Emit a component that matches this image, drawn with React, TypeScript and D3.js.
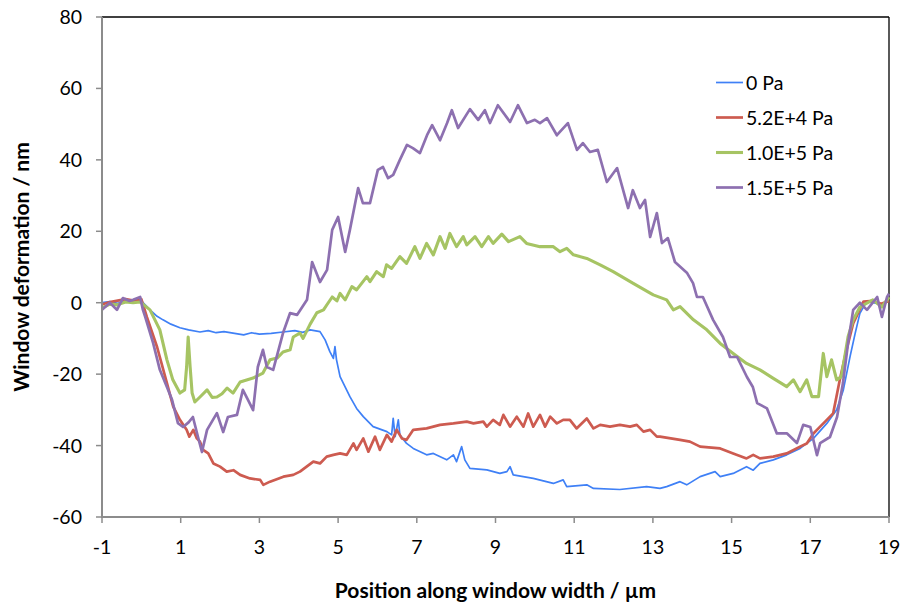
import React from "react";
import * as d3 from "d3";

const xTicks = [-1, 1, 3, 5, 7, 9, 11, 13, 15, 17, 19];
const yTicks = [-60, -40, -20, 0, 20, 40, 60, 80];
const seriesNames = ["0 Pa", "5.2E+4 Pa", "1.0E+5 Pa", "1.5E+5 Pa"];
const seriesColors = ["#3f80f6", "#cd5b50", "#a6c463", "#8d70b0"];
const seriesWidths = [1.7, 2.7, 3.1, 2.7];

const pa0: [number, number][] = [[-1,0],[-0.8,0.3],[-0.6,-0.2],[-0.4,0.5],[-0.2,0.3],[0,0.5],[0.22,-2],[0.4,-3.8],[0.55,-4.8],[0.75,-6],[0.98,-7],[1.2,-7.6],[1.49,-8.2],[1.7,-7.8],[1.9,-8.4],[2.1,-8.1],[2.33,-8.5],[2.6,-9],[2.8,-8.4],[3.0,-8.8],[3.3,-8.6],[3.6,-8.2],[3.9,-7.8],[4.1,-8.3],[4.29,-7.6],[4.54,-8.1],[4.67,-10.4],[4.79,-13.7],[4.88,-15.6],[4.92,-12.3],[4.96,-16],[5.05,-20.7],[5.3,-26.3],[5.47,-29.6],[5.64,-31.9],[5.89,-34.7],[6.24,-36.1],[6.36,-37],[6.4,-32.4],[6.45,-37.5],[6.53,-32.8],[6.57,-37],[6.74,-39.4],[6.91,-40.8],[7.25,-42.6],[7.42,-42.2],[7.76,-44],[7.93,-42.6],[8.01,-44.5],[8.14,-40.3],[8.22,-44],[8.35,-46.4],[8.78,-46.8],[9.11,-47.8],[9.29,-47.3],[9.37,-45.9],[9.45,-48.2],[9.96,-49.2],[10.47,-50.6],[10.72,-49.6],[10.81,-51.5],[11.32,-51],[11.49,-52],[12.16,-52.3],[12.84,-51.5],[13.18,-52],[13.35,-51.5],[13.69,-50.1],[13.86,-51],[14.2,-48.7],[14.58,-47.3],[14.71,-48.7],[15.04,-47.8],[15.38,-45.9],[15.55,-46.9],[15.72,-45],[16.06,-44],[16.4,-42.6],[16.74,-40.8],[17.08,-38],[17.42,-33.8],[17.67,-30],[17.84,-24.4],[18.01,-15.1],[18.14,-8.6],[18.26,-3],[18.43,0.3],[18.6,0],[18.8,-0.5],[19,0.5]];

const pa52e4: [number, number][] = [[-1,-0.5],[-0.8,0.2],[-0.6,0.6],[-0.4,1],[-0.2,0.6],[0,1],[0.14,-4],[0.4,-12.4],[0.65,-22.5],[0.81,-29.1],[0.98,-32.8],[1.15,-35.6],[1.22,-37.5],[1.32,-35.6],[1.41,-38],[1.49,-38.9],[1.57,-41.2],[1.7,-42.2],[1.83,-45],[2.0,-45.9],[2.17,-47.3],[2.34,-46.9],[2.51,-48.2],[2.76,-49.2],[3.02,-49.6],[3.1,-51],[3.27,-50.1],[3.61,-48.7],[3.86,-48.2],[4.03,-47.3],[4.2,-45.9],[4.37,-44.5],[4.54,-45],[4.71,-43.1],[4.88,-42.6],[5.05,-42.2],[5.22,-42.6],[5.39,-39.4],[5.47,-41.2],[5.64,-38],[5.77,-41.7],[5.94,-37.5],[6.06,-41.2],[6.24,-37],[6.36,-38.9],[6.49,-35.6],[6.62,-38],[6.74,-38.4],[6.91,-35.6],[7.25,-35.2],[7.59,-34.2],[7.93,-33.8],[8.27,-33.3],[8.44,-33.8],[8.69,-33.3],[8.78,-34.7],[8.94,-32.8],[9.11,-34.2],[9.2,-31.4],[9.37,-34.7],[9.54,-31.9],[9.71,-34.7],[9.83,-31],[9.96,-34.7],[10.13,-31.4],[10.26,-34.7],[10.39,-31.9],[10.56,-33.8],[10.72,-32.8],[10.89,-32.8],[11.06,-35.2],[11.32,-32.4],[11.49,-35.2],[11.66,-34.2],[11.91,-34.7],[12.16,-34.2],[12.42,-34.7],[12.59,-34.2],[12.76,-36.1],[12.93,-35.6],[13.1,-37.5],[13.18,-37.5],[13.69,-38.4],[13.94,-38.9],[14.2,-40.3],[14.71,-40.8],[15.04,-42.2],[15.38,-43.6],[15.55,-42.6],[15.72,-43.6],[16.06,-43.1],[16.4,-42.2],[16.74,-40.3],[16.91,-39.4],[17.08,-36.6],[17.25,-34.7],[17.42,-32.8],[17.58,-31],[17.75,-21.6],[17.92,-13.2],[18.09,-5.8],[18.35,0.3],[18.6,0.5],[18.8,-0.3],[19,0.5]];

const pa1e5: [number, number][] = [[-1,-1.5],[-0.8,-0.4],[-0.62,-0.6],[-0.4,0.2],[-0.21,0],[-0.03,0.2],[0.22,-2],[0.47,-7.6],[0.65,-16],[0.8,-21.6],[0.98,-25.3],[1.1,-24.4],[1.15,-18],[1.19,-9.6],[1.24,-18],[1.29,-25.3],[1.36,-27.8],[1.49,-26.4],[1.67,-24.4],[1.8,-26.5],[1.92,-26.4],[2.05,-25.5],[2.18,-23.9],[2.33,-25.3],[2.51,-22.2],[2.84,-21.1],[3.09,-19.7],[3.27,-16],[3.45,-15.5],[3.6,-13.8],[3.78,-13.2],[3.86,-9.6],[4.03,-8.5],[4.11,-10],[4.29,-6],[4.46,-2.8],[4.63,-2],[4.72,-0.5],[4.85,1.6],[4.97,0.5],[5.05,2.6],[5.18,0.8],[5.35,4.5],[5.47,3.6],[5.73,7.3],[5.81,5.9],[5.98,8.7],[6.15,7.3],[6.23,10.6],[6.36,9.6],[6.57,12.9],[6.74,11],[6.95,15.7],[7.08,12.4],[7.25,16.6],[7.42,13.4],[7.59,18.5],[7.72,15.2],[7.84,19.4],[8.01,15.7],[8.18,18.5],[8.27,16.2],[8.48,18.5],[8.65,15.7],[8.82,18.5],[8.94,16.6],[9.16,19.2],[9.33,17.1],[9.62,18.5],[9.79,16.6],[10.13,15.7],[10.47,15.7],[10.64,14.3],[10.81,15.2],[10.98,13.4],[11.32,12.4],[11.66,10.6],[11.99,8.7],[12.5,5.4],[13.01,2.2],[13.35,0.8],[13.52,-2],[13.69,-1.1],[14.03,-4.8],[14.37,-7.6],[14.71,-11.4],[15.04,-14.2],[15.38,-17],[15.72,-18.8],[16.06,-21.2],[16.4,-23.5],[16.57,-21.6],[16.74,-24.9],[16.91,-21.6],[17.04,-26.3],[17.21,-26.3],[17.33,-14.2],[17.42,-20.7],[17.54,-16],[17.67,-21.6],[17.79,-20.7],[17.96,-9.5],[18.09,-4.8],[18.26,-1.2],[18.59,0.8],[18.82,-1.2],[19,1.6]];

const pa15e5: [number, number][] = [[-1,-2],[-0.8,0],[-0.62,-2],[-0.47,1.3],[-0.3,0.5],[-0.21,0.8],[-0.03,1.6],[0.04,-2],[0.1,-4],[0.3,-11.3],[0.47,-18.8],[0.65,-23.6],[0.78,-27.2],[0.93,-33.7],[1.06,-34.8],[1.2,-33.5],[1.31,-32],[1.44,-37.6],[1.54,-41.8],[1.67,-35.6],[1.92,-30.9],[2.08,-36.2],[2.2,-32],[2.43,-31.4],[2.58,-24.4],[2.7,-27],[2.84,-30.1],[2.96,-18],[3.09,-13.2],[3.19,-18],[3.35,-18.8],[3.6,-8.5],[3.78,-2.9],[3.96,-3.4],[4.21,0.8],[4.34,11.4],[4.54,5.8],[4.72,9.2],[4.85,20.4],[5.0,24],[5.18,14.2],[5.3,20.4],[5.51,32.1],[5.63,27.9],[5.81,27.9],[6.01,37.2],[6.14,38],[6.27,34.9],[6.4,35.8],[6.57,40],[6.75,44.2],[6.9,43.3],[7.08,41.9],[7.26,46.9],[7.39,49.7],[7.59,45.5],[7.77,50.3],[7.89,53.9],[8.05,48.9],[8.35,54.2],[8.56,51.2],[8.73,53.9],[8.86,50.3],[9.06,55.3],[9.37,50.6],[9.57,55.3],[9.8,50.3],[10.0,51.2],[10.13,50.3],[10.31,51.7],[10.56,46.9],[10.84,50.3],[11.07,42.8],[11.22,44.7],[11.4,42.2],[11.6,42.8],[11.83,33.8],[12.09,37.7],[12.37,26.5],[12.49,31.5],[12.67,26.5],[12.8,28.8],[12.93,18.4],[13.1,25.1],[13.23,16.7],[13.38,18.1],[13.56,11.4],[13.87,8.3],[14.02,5.5],[14.12,1.6],[14.27,1.6],[14.53,-4.8],[14.78,-9.6],[14.96,-15.2],[15.14,-15.2],[15.39,-20.8],[15.54,-23.6],[15.65,-28.1],[15.9,-29.6],[16.15,-36.6],[16.41,-36.6],[16.66,-39.3],[16.82,-34.2],[17.0,-34.8],[17.17,-42.7],[17.25,-39.3],[17.5,-37.6],[17.68,-32],[17.83,-22.5],[17.96,-11.3],[18.09,-2],[18.26,0],[18.44,-2],[18.7,1.6],[18.82,-4],[18.95,1.6],[19,2.5]];

const allSeries = [pa0, pa52e4, pa1e5, pa15e5];

export default function App() {
  const W = 904, H = 605;
  const L = 102, R = 889, T = 17, B = 517;
  const x = d3.scaleLinear().domain([-1, 19]).range([L, R]);
  const y = d3.scaleLinear().domain([-60, 80]).range([B, T]);
  const line = d3.line<[number, number]>().x(d => x(d[0])).y(d => y(d[1])).curve(d3.curveLinear);
  const font = "Lato, 'Open Sans', sans-serif";
  return (
    <svg width={W} height={H} style={{ position: "absolute", left: 0, top: 0, background: "#fff" }}>
      <rect x={0} y={0} width={W} height={H} fill="#fff" />
      <line x1={L} y1={T} x2={R} y2={T} stroke="#000" strokeWidth={1.3} />
      <line x1={R} y1={T} x2={R} y2={B} stroke="#000" strokeWidth={1.3} />
      {allSeries.map((s, i) => (
        <path key={i} d={line(s) || ""} fill="none" stroke={seriesColors[i]} strokeWidth={seriesWidths[i]} strokeLinejoin="round" />
      ))}
      <line x1={L} y1={T} x2={L} y2={B + 1} stroke="#8c8c8c" strokeWidth={2} />
      <line x1={L - 1} y1={B} x2={R} y2={B} stroke="#8c8c8c" strokeWidth={2} />
      {yTicks.map(t => (
        <g key={t}>
          <line x1={L - 6} x2={L} y1={y(t)} y2={y(t)} stroke="#8c8c8c" strokeWidth={1.5} />
          <text x={L - 20} y={y(t)} dy="0.36em" textAnchor="end" fontFamily={font} fontSize={19.5} fill="#000">{t}</text>
        </g>
      ))}
      {xTicks.map(t => (
        <g key={t}>
          <line x1={x(t)} x2={x(t)} y1={B} y2={B + 6} stroke="#8c8c8c" strokeWidth={1.5} />
          <text x={x(t)} y={B + 30} dy="0.36em" textAnchor="middle" fontFamily={font} fontSize={19.5} fill="#000">{t}</text>
        </g>
      ))}
      <text x={(L + R) / 2} y={590} dy="0.36em" textAnchor="middle" fontFamily={font} fontWeight="bold" fontSize={21} fill="#000">Position along window width / µm</text>
      <text transform={`translate(21,${(T + B) / 2}) rotate(-90)`} dy="0.36em" textAnchor="middle" fontFamily={font} fontWeight="bold" fontSize={21} fill="#000">Window deformation / nm</text>
      {seriesNames.map((n, i) => {
        const ly = 82.5 + i * 35;
        return (
          <g key={n}>
            <line x1={716} x2={743} y1={ly} y2={ly} stroke={seriesColors[i]} strokeWidth={seriesWidths[i]} />
            <text x={746} y={ly} dy="0.36em" fontFamily={font} fontSize={19.5} fill="#000">{n}</text>
          </g>
        );
      })}
    </svg>
  );
}
